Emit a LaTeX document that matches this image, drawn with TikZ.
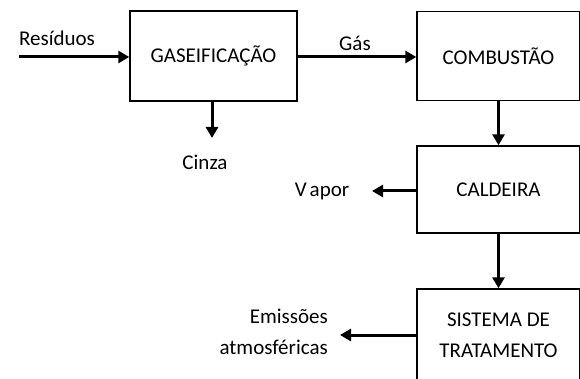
\documentclass[tikz,border=0pt]{standalone}
\usepackage{fontspec}
\setmainfont{Carlito}
\usepackage{tikz}
\usetikzlibrary{arrows.meta, positioning}

\begin{document}
\begin{tikzpicture}[
  x=1pt, y=-1pt,
  process/.style={draw=black, line width=1.4pt, minimum width=163pt,
                  inner sep=0pt, font=\fontsize{21}{31}\selectfont, align=center},
  label/.style={font=\fontsize{21}{31}\selectfont, inner sep=0pt},
  flow/.style={-{Triangle[length=11pt,width=12pt]}, line width=3pt, black},
]
\clip (0,0) rectangle (580,379);
\node[process, minimum width=167pt, minimum height=90pt] (gasif) at (213.5,56) {GASEIFICA\c{C}\~AO};
\node[process, minimum height=89pt] (combust) at (498.5,56) {COMBUST\~AO};
\node[process, minimum height=87pt] (cald) at (498.5,189.5) {CALDEIRA};
\node[process, minimum height=93pt] (trat) at (498.5,335.5) {SISTEMA DE\\ TRATAMENTO};

\node[label] (residuos) at (57,38) {Res\'iduos};
\node[label] (gas) at (355,43) {G\'as};
\node[label] (cinza) at (205,162) {Cinza};
\node[label] (vapor) at (322,191) {V\kern3pt apor};
\node[label, anchor=east, align=right] (emis) at (328,332) {Emiss\~oes\\ atmosf\'ericas};

\coordinate (in) at (19,57);
\coordinate (ash) at (212,138);
\coordinate (steam) at (372,191);
\coordinate (out) at (340,335);

\draw[flow] (in) -- (gasif.west |- in);
\draw[flow] (gasif.east |- in) -- (combust.west |- in);
\draw[flow] (gasif.south -| ash) -- (ash);
\draw[flow] (combust) ++(0,44.5) -- (cald.north);
\draw[flow] (cald.south) -- (trat.north);
\draw[flow] (cald.west |- steam) -- (steam);
\draw[flow] (trat.west |- out) -- (out);
\end{tikzpicture}
\end{document}
